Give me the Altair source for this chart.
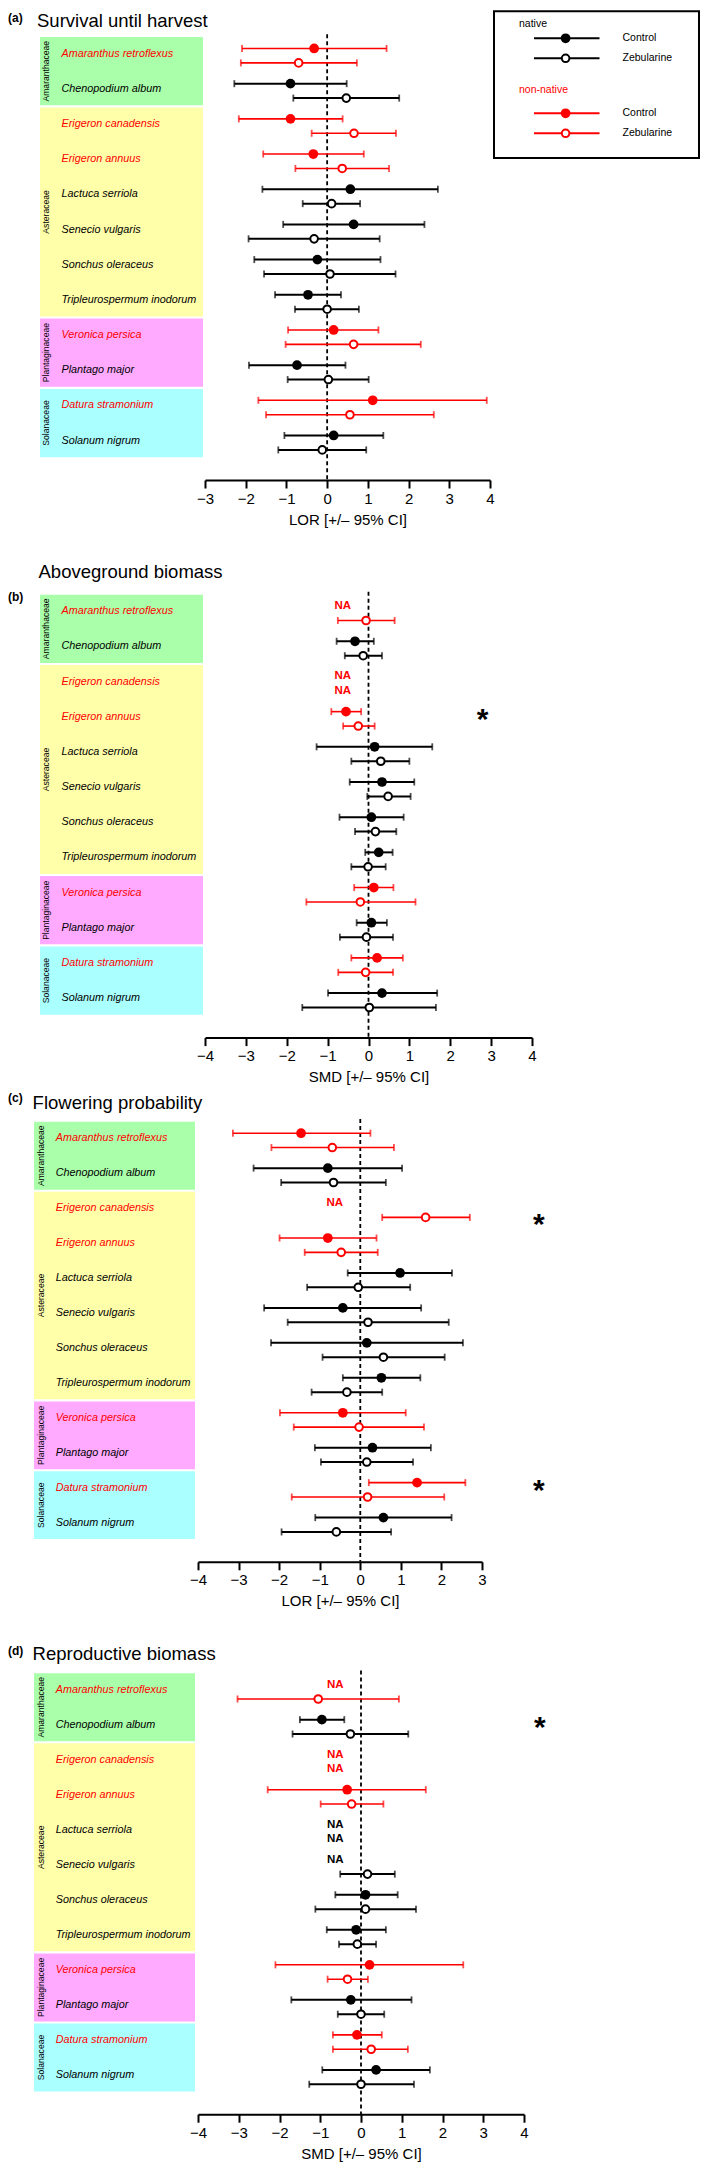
import altair as alt
import pandas as pd

FONT = "Liberation Sans"

# ---------------- data ----------------
species = ["Amaranthus retroflexus", "Chenopodium album", "Erigeron canadensis", "Erigeron annuus",
           "Lactuca serriola", "Senecio vulgaris", "Sonchus oleraceus", "Tripleurospermum inodorum",
           "Veronica persica", "Plantago major", "Datura stramonium", "Solanum nigrum"]
family = ["Amaranthaceae"] * 2 + ["Asteraceae"] * 6 + ["Plantaginaceae"] * 2 + ["Solanaceae"] * 2
origin = ["non-native", "native", "non-native", "non-native", "native", "native",
          "native", "native", "non-native", "native", "non-native", "native"]
families = ["Amaranthaceae", "Asteraceae", "Plantaginaceae", "Solanaceae"]
family_colors = ["#AAFFAA", "#FFFFAA", "#FFAAFF", "#AAFFFF"]
origins = ["native", "non-native"]
origin_colors = ["#000000", "#FF0000"]
treatments = ["Control", "Zebularine"]

# (a) Survival until harvest (LOR)
a_ctrl_est = [-0.32, -0.90, -0.90, -0.34, 0.57, 0.65, -0.24, -0.47, 0.16, -0.74, 1.12, 0.16]
a_ctrl_lo = [-2.09, -2.28, -2.17, -1.57, -1.59, -1.08, -1.79, -1.28, -0.96, -1.92, -1.69, -1.05]
a_ctrl_hi = [1.46, 0.48, 0.38, 0.90, 2.72, 2.39, 1.31, 0.34, 1.26, 0.45, 3.92, 1.38]
a_zeb_est = [-0.70, 0.47, 0.66, 0.37, 0.11, -0.32, 0.07, 0.00, 0.65, 0.03, 0.56, -0.12]
a_zeb_lo = [-2.12, -0.83, -0.38, -0.78, -0.60, -1.93, -1.55, -0.79, -1.02, -0.97, -1.50, -1.20]
a_zeb_hi = [0.73, 1.77, 1.69, 1.52, 0.81, 1.29, 1.68, 0.78, 2.30, 1.02, 2.62, 0.96]

# (b) Aboveground biomass (SMD)
b_ctrl_est = [None, -0.33, None, -0.55, 0.15, 0.33, 0.07, 0.25, 0.13, 0.07, 0.21, 0.33]
b_ctrl_lo = [None, -0.78, None, -0.91, -1.27, -0.46, -0.71, -0.08, -0.35, -0.29, -0.42, -0.99]
b_ctrl_hi = [None, 0.13, None, -0.18, 1.56, 1.12, 0.86, 0.59, 0.61, 0.45, 0.84, 1.68]
b_zeb_est = [-0.06, -0.13, None, -0.25, 0.30, 0.48, 0.17, -0.01, -0.20, -0.05, -0.07, 0.02]
b_zeb_lo = [-0.75, -0.58, None, -0.62, -0.42, -0.03, -0.33, -0.42, -1.52, -0.70, -0.74, -1.62]
b_zeb_hi = [0.64, 0.33, None, 0.15, 1.00, 1.03, 0.68, 0.42, 1.15, 0.60, 0.60, 1.65]

# (c) Flowering probability (LOR)
c_ctrl_est = [-1.46, -0.80, None, -0.80, 0.98, -0.43, 0.16, 0.52, -0.43, 0.30, 1.40, 0.57]
c_ctrl_lo = [-3.14, -2.63, None, -1.99, -0.31, -2.37, -2.20, -0.43, -1.98, -1.12, 0.21, -1.11]
c_ctrl_hi = [0.25, 1.03, None, 0.40, 2.26, 1.50, 2.53, 1.48, 1.12, 1.74, 2.59, 2.25]
c_zeb_est = [-0.69, -0.66, 1.61, -0.47, -0.05, 0.19, 0.57, -0.33, -0.03, 0.16, 0.18, -0.59]
c_zeb_lo = [-2.19, -1.95, 0.54, -1.37, -1.31, -1.79, -0.93, -1.20, -1.64, -0.97, -1.69, -1.94]
c_zeb_hi = [0.83, 0.63, 2.70, 0.43, 1.23, 2.18, 2.08, 0.54, 1.57, 1.30, 2.07, 0.76]

# (d) Reproductive biomass (SMD)
d_ctrl_est = [None, -0.96, None, -0.34, None, None, 0.11, -0.12, 0.21, -0.25, -0.10, 0.37]
d_ctrl_lo = [None, -1.50, None, -2.29, None, None, -0.63, -0.84, -2.10, -1.71, -0.69, -0.95]
d_ctrl_hi = [None, -0.41, None, 1.59, None, None, 0.90, 0.61, 2.51, 1.24, 0.51, 1.69]
d_zeb_est = [-1.05, -0.26, None, -0.23, None, 0.16, 0.11, -0.09, -0.33, 0.00, 0.25, 0.00]
d_zeb_lo = [-3.03, -1.68, None, -0.99, None, -0.51, -1.12, -0.54, -0.82, -0.57, -0.69, -1.27]
d_zeb_hi = [0.93, 1.16, None, 0.55, None, 0.83, 1.35, 0.37, 0.17, 0.57, 1.15, 1.30]

# significance asterisks: (species, treatment row, x position)
b_sig = [("Erigeron annuus", "Control", 2.79)]
c_sig = [("Erigeron canadensis", "Zebularine", 4.40), ("Datura stramonium", "Control", 4.40)]
d_sig = [("Chenopodium album", "Control", 4.39)]
NA_X = -0.63

# ---------------- layout constants ----------------
Y_TOP = 12.62
CTRL_OFF, ZEB_OFF, LABEL_OFF = 0.355, 0.765, 0.5
SPACING = 82.4

color_scale = alt.Scale(domain=origins, range=origin_colors)


def build_df(ce, cl, ch, ze, zl, zh):
    rows = []
    for i, sp in enumerate(species):
        for trt, est, lo, hi, off in [("Control", ce[i], cl[i], ch[i], CTRL_OFF),
                                      ("Zebularine", ze[i], zl[i], zh[i], ZEB_OFF)]:
            rows.append(dict(species=sp, origin=origin[i], treatment=trt,
                             est=est, lo=lo, hi=hi, row=i + off, na=est is None))
    return pd.DataFrame(rows)


def legend_layers():
    L = []
    box = alt.Chart(pd.DataFrame({"a": [1]})).mark_rect(fill="white", fillOpacity=0, stroke="black",
                                                        strokeWidth=2).encode(
        x=alt.value(296), x2=alt.value(501), y=alt.value(-24.7), y2=alt.value(122))
    L.append(box)
    heads = [("native", -11.7), ("non-native", 53.7)]
    items = [("native", "Control", 2.3), ("native", "Zebularine", 22.3),
             ("non-native", "Control", 77.3), ("non-native", "Zebularine", 97.3)]
    for org, ly in heads:
        col = origin_colors[origins.index(org)]
        L.append(alt.Chart(pd.DataFrame({"t": [org]})).mark_text(
            font=FONT, fontSize=10.5, align="left", baseline="middle", color=col).encode(
            x=alt.value(321), y=alt.value(ly), text="t:N"))
    for org, trt, ly in items:
        col = origin_colors[origins.index(org)]
        d = pd.DataFrame({"t": [trt]})
        L.append(alt.Chart(d).mark_rule(strokeWidth=2, color=col).encode(
            x=alt.value(336), x2=alt.value(401.5), y=alt.value(ly)))
        if trt == "Control":
            L.append(alt.Chart(d).mark_point(filled=True, size=95, opacity=1, shape="circle",
                                             color=col).encode(x=alt.value(367.6), y=alt.value(ly)))
        else:
            L.append(alt.Chart(d).mark_point(filled=False, fill="white", fillOpacity=1, size=58,
                                             strokeWidth=2, opacity=1, shape="circle",
                                             color=col).encode(x=alt.value(367.6), y=alt.value(ly)))
        L.append(alt.Chart(d).mark_text(font=FONT, fontSize=10.5, align="left", baseline="middle",
                                        color="black").encode(
            x=alt.value(424.5), y=alt.value(ly), text="t:N"))
    return L


def panel_chart(cfg, with_legend=False):
    h, e = cfg["height"], cfg["extra"]
    ysc = alt.Scale(domain=[0, Y_TOP], range=[e, e + h], nice=False, zero=False)
    dom = cfg["domain"]
    xsc = alt.Scale(domain=dom, range=[cfg["x0"], cfg["x0"] + cfg["width"]], nice=False, zero=False)
    xaxis = alt.Axis(values=list(range(dom[0], dom[1] + 1)), format="d", title=cfg["xtitle"], grid=False,
                     domainColor="black", domainWidth=2, tickColor="black", tickWidth=2, tickSize=8,
                     labelFont=FONT, labelFontSize=15, labelColor="black", labelPadding=3,
                     labelFlush=False, labelOverlap=False,
                     titleFont=FONT, titleFontSize=15, titleFontWeight="normal", titleColor="black",
                     titlePadding=6)

    def Y(field):
        return alt.Y(field, scale=ysc, axis=None)

    def X(field):
        return alt.X(field, scale=xsc)

    # left part: family blocks, family names, species names, panel title
    fam_rows = []
    for f in families:
        idx = [i for i, x in enumerate(family) if x == f]
        fam_rows.append(dict(family=f, y0=idx[0] + 0.03, y1=idx[-1] + 1 - 0.03,
                             ym=(idx[0] + idx[-1] + 1) / 2))
    fam_df = pd.DataFrame(fam_rows)
    sp_df = pd.DataFrame(dict(species=species, origin=origin,
                              yl=[i + LABEL_OFF for i in range(len(species))]))
    rects = alt.Chart(fam_df).mark_rect().encode(
        y=Y("y0:Q"), y2="y1:Q",
        x=alt.value(cfg["block_left"]), x2=alt.value(cfg["block_right"]),
        fill=alt.Fill("family:N", scale=alt.Scale(domain=families, range=family_colors), legend=None))
    famtext = alt.Chart(fam_df).mark_text(angle=270, font=FONT, fontSize=8.6, align="center",
                                          baseline="middle", color="black").encode(
        y=Y("ym:Q"), x=alt.value(cfg["fam_x"]), text="family:N")
    sptext = alt.Chart(sp_df).mark_text(font=FONT, fontSize=10.8, fontStyle="italic", align="left",
                                        baseline="middle").encode(
        y=Y("yl:Q"), x=alt.value(cfg["label_x"]), text="species:N",
        color=alt.Color("origin:N", scale=color_scale, legend=None))
    one = pd.DataFrame({"t": [cfg["title"]], "l": [cfg["letter"]]})
    title = alt.Chart(one).mark_text(font=FONT, fontSize=18.5, align="left", baseline="middle",
                                     color="black").encode(
        x=alt.value(cfg["title_x"]), y=alt.value(cfg["title_y"]), text="t:N")
    letter = alt.Chart(one).mark_text(font=FONT, fontSize=12, fontWeight="bold", align="left",
                                      baseline="middle", color="black").encode(
        x=alt.value(cfg["letter_x"]), y=alt.value(cfg["letter_y"]), text="l:N")

    # forest part
    df = build_df(*cfg["data"])
    ok = df[~df["na"]].copy()
    nas = df[df["na"]].copy()
    caps = pd.concat([ok.assign(cx=ok["lo"]), ok.assign(cx=ok["hi"])], ignore_index=True)
    zero = alt.Chart(pd.DataFrame({"x": [0], "y0": [-0.05], "y1": [Y_TOP]})).mark_rule(
        strokeDash=[4, 3], strokeWidth=1.8, color="black").encode(
        x=alt.X("x:Q", scale=xsc, axis=xaxis), y=Y("y0:Q"), y2="y1:Q")
    bars = alt.Chart(ok).mark_rule().encode(
        x=X("lo:Q"), x2="hi:Q", y=Y("row:Q"),
        color=alt.Color("origin:N", scale=color_scale, legend=None),
        strokeWidth=alt.StrokeWidth("origin:N", scale=alt.Scale(domain=origins, range=[2, 1.6]),
                                    legend=None))
    capm = alt.Chart(caps).mark_tick(orient="vertical", size=7, thickness=1.8).encode(
        x=X("cx:Q"), y=Y("row:Q"),
        color=alt.Color("origin:N", scale=color_scale, legend=None))
    ctrl = alt.Chart(ok[ok["treatment"] == "Control"]).mark_point(
        filled=True, size=95, opacity=1, shape="circle").encode(
        x=X("est:Q"), y=Y("row:Q"),
        color=alt.Color("origin:N", scale=color_scale, legend=None))
    zeb = alt.Chart(ok[ok["treatment"] == "Zebularine"]).mark_point(
        filled=False, fill="white", fillOpacity=1, size=58, strokeWidth=2, opacity=1,
        shape="circle").encode(
        x=X("est:Q"), y=Y("row:Q"),
        color=alt.Color("origin:N", scale=color_scale, legend=None))
    layers = [rects, famtext, sptext, title, letter, zero, bars, capm, ctrl, zeb]
    if len(nas):
        layers.append(alt.Chart(nas).mark_text(text="NA", font=FONT, fontSize=11.5, fontWeight="bold",
                                               align="center", baseline="middle").encode(
            x=alt.datum(NA_X, scale=xsc), y=Y("row:Q"),
            color=alt.Color("origin:N", scale=color_scale, legend=None)))
    if cfg["sig"]:
        srows = []
        for sp, trt, sx in cfg["sig"]:
            i = species.index(sp)
            srows.append(dict(species=sp, sx=sx, row=i + (CTRL_OFF if trt == "Control" else ZEB_OFF)))
        layers.append(alt.Chart(pd.DataFrame(srows)).mark_text(
            text="*", font=FONT, fontSize=30, fontWeight="bold", align="center",
            baseline="alphabetic", dy=17, color="black").encode(
            x=X("sx:Q"), y=Y("row:Q")))
    if with_legend:
        layers += legend_layers()
    return alt.layer(*layers).properties(width=cfg["x0"] + cfg["width"], height=h + e)


panels = [
    dict(letter="(a)", title="Survival until harvest", xtitle="LOR [+/– 95% CI]", domain=[-3, 4],
         x0=7, width=285, height=444, extra=0,
         block_left=-158, block_right=5, label_x=-136.5, fam_x=-152.5,
         title_x=-161, title_y=-14.7, letter_x=-190, letter_y=-17.7,
         data=(a_ctrl_est, a_ctrl_lo, a_ctrl_hi, a_zeb_est, a_zeb_lo, a_zeb_hi), sig=[]),
    dict(letter="(b)", title="Aboveground biomass", xtitle="SMD [+/– 95% CI]", domain=[-4, 4],
         x0=7, width=327, height=444, extra=31.2,
         block_left=-158, block_right=5, label_x=-136.5, fam_x=-152.5,
         title_x=-159.5, title_y=9.9, letter_x=-190, letter_y=34.9,
         data=(b_ctrl_est, b_ctrl_lo, b_ctrl_hi, b_zeb_est, b_zeb_lo, b_zeb_hi), sig=b_sig),
    dict(letter="(c)", title="Flowering probability", xtitle="LOR [+/– 95% CI]", domain=[-4, 3],
         x0=0, width=284, height=441, extra=0,
         block_left=-164, block_right=-3, label_x=-142.3, fam_x=-157.3,
         title_x=-165.4, title_y=-17.7, letter_x=-190, letter_y=-22.7,
         data=(c_ctrl_est, c_ctrl_lo, c_ctrl_hi, c_zeb_est, c_zeb_lo, c_zeb_hi), sig=c_sig),
    dict(letter="(d)", title="Reproductive biomass", xtitle="SMD [+/– 95% CI]", domain=[-4, 4],
         x0=0, width=326, height=442, extra=28,
         block_left=-164, block_right=-3, label_x=-142.3, fam_x=-157.3,
         title_x=-165.4, title_y=9.3, letter_x=-190, letter_y=6.3,
         data=(d_ctrl_est, d_ctrl_lo, d_ctrl_hi, d_zeb_est, d_zeb_lo, d_zeb_hi), sig=d_sig),
]

charts = [panel_chart(cfg, with_legend=(k == 0)) for k, cfg in enumerate(panels)]

chart = alt.vconcat(*charts, spacing=SPACING, bounds="flush").properties(
    padding={"left": 0, "top": 2, "right": 0, "bottom": 0}
).configure(font=FONT).configure_view(strokeWidth=0, stroke="transparent")

chart.save("out.html", embed_options={"renderer": "svg", "actions": False})
